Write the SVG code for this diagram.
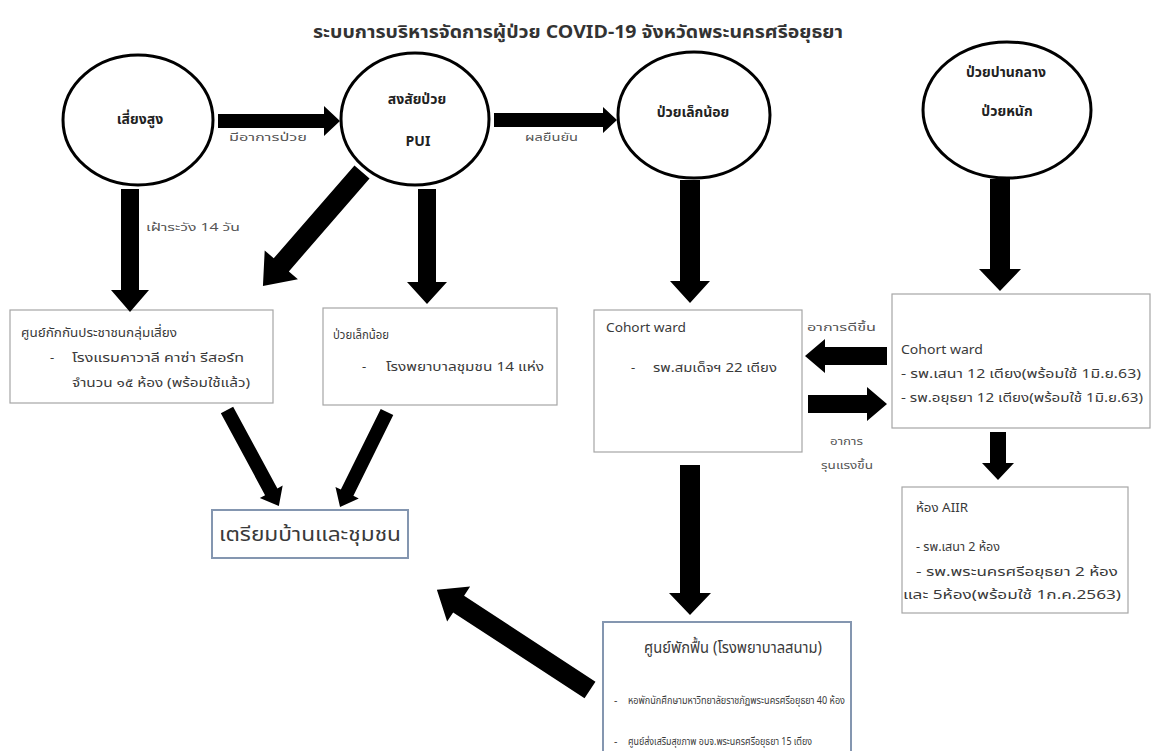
<svg xmlns="http://www.w3.org/2000/svg" width="1159" height="751" viewBox="0 0 1159 751">
<style>
text{font-family:"Noto Sans Thai","Tahoma","DejaVu Sans","Liberation Sans",sans-serif;fill:#3a3a3a;font-size:13px}
.title{font-size:17px;fill:#333;font-weight:bold}
.cir{font-size:14px;fill:#222;font-weight:bold}
.lbl{font-size:11px;fill:#555}
.sm{font-size:10.5px}
.node{fill:#fff;stroke:#000;stroke-width:3}
.box{fill:#fff;stroke:#a6a6a6;stroke-width:1.2}
.bbox{fill:#fff;stroke:#8496b0;stroke-width:2}
.arr{fill:#000}
</style>
<rect width="1159" height="751" fill="#fff"/>
<text class="title" x="313" y="38" textLength="530" lengthAdjust="spacingAndGlyphs">ระบบการบริหารจัดการผู้ป่วย COVID-19 จังหวัดพระนครศรีอยุธยา</text>

<g id="n-risk"><ellipse class="node" cx="138" cy="120" rx="75" ry="65"/><text class="cir" x="140" y="124" text-anchor="middle">เสี่ยงสูง</text></g>
<g id="n-pui"><ellipse class="node" cx="415" cy="119" rx="74" ry="66"/><text class="cir" x="417" y="104" text-anchor="middle">สงสัยป่วย</text><text class="cir" x="418" y="146" text-anchor="middle">PUI</text></g>
<g id="n-mild"><ellipse class="node" cx="694" cy="115" rx="76" ry="63"/><text class="cir" x="693" y="117" text-anchor="middle">ป่วยเล็กน้อย</text></g>
<g id="n-severe"><ellipse class="node" cx="1007" cy="110" rx="84" ry="68"/><text class="cir" x="1006" y="77" text-anchor="middle">ป่วยปานกลาง</text><text class="cir" x="1007" y="116" text-anchor="middle">ป่วยหนัก</text></g>

<g id="b-quarantine"><rect class="box" x="10" y="310" width="263" height="93"/>
<text x="21" y="337" textLength="156" lengthAdjust="spacingAndGlyphs">ศูนย์กักกันประชาชนกลุ่มเสี่ยง</text>
<text x="50" y="362">-</text><text x="72" y="362" textLength="172" lengthAdjust="spacingAndGlyphs">โรงแรมคาวาลี คาซ่า รีสอร์ท</text>
<text x="72" y="387" textLength="178" lengthAdjust="spacingAndGlyphs">จำนวน ๑๕ ห้อง (พร้อมใช้แล้ว)</text></g>

<g id="b-community"><rect class="box" x="323" y="308" width="234" height="97"/>
<text x="333" y="339" textLength="56" lengthAdjust="spacingAndGlyphs">ป่วยเล็กน้อย</text>
<text x="362" y="371">-</text><text x="386" y="371" textLength="158" lengthAdjust="spacingAndGlyphs">โรงพยาบาลชุมชน 14 แห่ง</text></g>

<g id="b-cohort1"><rect class="box" x="594" y="310" width="208" height="142"/>
<text x="606" y="332" textLength="80" lengthAdjust="spacingAndGlyphs">Cohort ward</text>
<text x="631" y="372">-</text><text x="653" y="372" textLength="124" lengthAdjust="spacingAndGlyphs">รพ.สมเด็จฯ 22 เตียง</text></g>

<g id="b-cohort2"><rect class="box" x="892" y="294" width="258" height="134"/>
<text x="901" y="354" textLength="82" lengthAdjust="spacingAndGlyphs">Cohort ward</text>
<text x="901" y="378" textLength="240" lengthAdjust="spacingAndGlyphs">- รพ.เสนา 12 เตียง(พร้อมใช้ 1มิ.ย.63)</text>
<text x="901" y="402" textLength="242" lengthAdjust="spacingAndGlyphs">- รพ.อยุธยา 12 เตียง(พร้อมใช้ 1มิ.ย.63)</text></g>

<g id="b-aiir"><rect class="box" x="902" y="487" width="226" height="126"/>
<text x="916" y="512" textLength="52" lengthAdjust="spacingAndGlyphs">ห้อง AIIR</text>
<text x="916" y="551" textLength="84" lengthAdjust="spacingAndGlyphs">- รพ.เสนา 2 ห้อง</text>
<text x="916" y="576" textLength="202" lengthAdjust="spacingAndGlyphs">- รพ.พระนครศรีอยุธยา 2 ห้อง</text>
<text x="903" y="599" textLength="218" lengthAdjust="spacingAndGlyphs">และ 5ห้อง(พร้อมใช้ 1ก.ค.2563)</text></g>

<g id="b-home"><rect class="bbox" x="212" y="510" width="196" height="48"/>
<text x="219" y="541" style="font-size:19px" textLength="182" lengthAdjust="spacingAndGlyphs">เตรียมบ้านและชุมชน</text></g>

<g id="b-field"><rect class="bbox" x="603" y="622" width="248" height="140"/>
<text x="644" y="653" style="font-size:16px" textLength="178" lengthAdjust="spacingAndGlyphs">ศูนย์พักฟื้น (โรงพยาบาลสนาม)</text>
<text class="sm" x="614" y="704">-</text><text class="sm" x="628" y="704" textLength="217" lengthAdjust="spacingAndGlyphs">หอพักนักศึกษามหาวิทยาลัยราชภัฏพระนครศรีอยุธยา 40 ห้อง</text>
<text class="sm" x="614" y="745">-</text><text class="sm" x="628" y="745" textLength="184" lengthAdjust="spacingAndGlyphs">ศูนย์ส่งเสริมสุขภาพ อบจ.พระนครศรีอยุธยา 15 เตียง</text></g>

<g id="connectors">
<polygon class="arr" transform="translate(218,121)" points="0,-7 106,-7 106,-15 122,0 106,15 106,7 0,7"/>
<polygon class="arr" transform="translate(494,120)" points="0,-7 109,-7 109,-13 123,0 109,13 109,7 0,7"/>
<polygon class="arr" transform="translate(130,189) rotate(90)" points="0,-9 101,-9 101,-19 123,0 101,19 101,9 0,9"/>
<polygon class="arr" transform="translate(362,172) rotate(131)" points="0,-10 123,-10 123,-22 151,0 123,22 123,10 0,10"/>
<polygon class="arr" transform="translate(427,189) rotate(90)" points="0,-9 93,-9 93,-20 115,0 93,20 93,9 0,9"/>
<polygon class="arr" transform="translate(690,180) rotate(90)" points="0,-10 101,-10 101,-20 123,0 101,20 101,10 0,10"/>
<polygon class="arr" transform="translate(1000,179) rotate(90)" points="0,-10 90,-10 90,-21 112,0 90,21 90,10 0,10"/>
<polygon class="arr" transform="translate(887,356) rotate(180)" points="0,-9 62,-9 62,-17 82,0 62,17 62,9 0,9"/>
<polygon class="arr" transform="translate(808,404)" points="0,-9 59,-9 59,-17 79,0 59,17 59,9 0,9"/>
<polygon class="arr" transform="translate(998,432) rotate(90)" points="0,-8 31,-8 31,-16 48,0 31,16 31,8 0,8"/>
<polygon class="arr" transform="translate(690,465) rotate(90)" points="0,-10 128,-10 128,-21 150,0 128,21 128,10 0,10"/>
<polygon class="arr" transform="translate(590,690) rotate(-146.8)" points="0,-10 157,-10 157,-21 183,0 157,21 157,10 0,10"/>
<polygon class="arr" transform="translate(227,410) rotate(61.6)" points="0,-7 93,-7 93,-13 109,0 93,13 93,7 0,7"/>
<polygon class="arr" transform="translate(387,412) rotate(116.3)" points="0,-7 90,-7 90,-13 106,0 90,13 90,7 0,7"/>
<text class="lbl" x="229" y="141" textLength="78" lengthAdjust="spacingAndGlyphs">มีอาการป่วย</text>
<text class="lbl" x="525" y="141" textLength="53" lengthAdjust="spacingAndGlyphs">ผลยืนยัน</text>
<text class="lbl" x="146" y="231" textLength="94" lengthAdjust="spacingAndGlyphs">เฝ้าระวัง 14 วัน</text>
<text class="lbl" x="807" y="331" textLength="69" lengthAdjust="spacingAndGlyphs">อาการดีขึ้น</text>
<text class="lbl" x="830" y="445" textLength="33" lengthAdjust="spacingAndGlyphs">อาการ</text>
<text class="lbl" x="821" y="469" textLength="52" lengthAdjust="spacingAndGlyphs">รุนแรงขึ้น</text>
</g>
</svg>
